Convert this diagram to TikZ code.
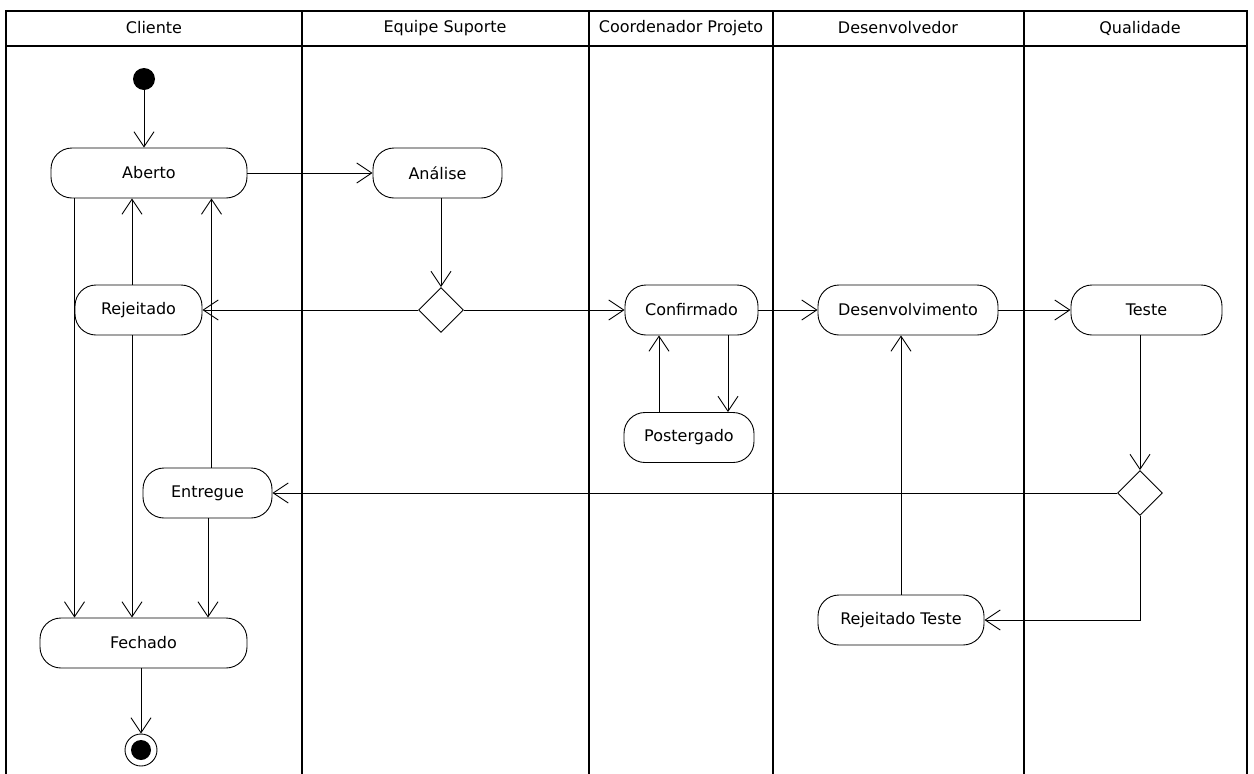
\documentclass[tikz,border=0pt]{standalone}
\usepackage{fontspec}
\setmainfont{DejaVu Sans}
\usepackage{tikz}
\usetikzlibrary{
  positioning,
  calc,
  arrows.meta,
  shapes.geometric
}
\tikzstyle{lane}=[line width=1.1pt]
\tikzstyle{flow}=[-{Straight Barb[length=15pt,width=20pt]}, line width=0.9pt]
\tikzstyle{acao}=[draw, line width=0.9pt, rounded corners=21pt, minimum height=50pt, inner sep=0pt, font=\fontsize{16}{19}\selectfont]
\tikzstyle{decisao}=[draw, diamond, line width=0.9pt, minimum width=45pt, minimum height=45pt, inner sep=0pt]
\tikzstyle{titulo}=[font=\fontsize{16}{19}\selectfont]

\begin{document}
\begin{tikzpicture}[x=1pt, y=-1pt]
      \useasboundingbox (0,0) rectangle (1254,774);

      % raias
      \draw[lane] (6,774) -- (6,11) -- (1247,11) -- (1247,774);
      \draw[lane] (6,46) -- (1247,46);
      \foreach \x in {302,589,773,1024}
        \draw[lane] (\x,11) -- (\x,774);

      % titulos das raias
      \node[titulo] (tCliente) at (154,28) {Cliente};
      \node[titulo] (tSuporte) at (445,28) {Equipe Suporte};
      \node[titulo] (tCoord) at (681,28) {Coordenador Projeto};
      \node[titulo] (tDesenv) at (898,28) {Desenvolvedor};
      \node[titulo] (tQualidade) at (1140,28) {Qualidade};

      % inicio e fim
      \node[circle, fill, minimum size=22pt, inner sep=0pt] (inicio) at (144,79) {};
      \node[circle, draw, line width=0.9pt, minimum size=32pt, inner sep=0pt,
        path picture={\fill (path picture bounding box.center) circle (10pt);}] (fim) at (141,750) {};

      % estados
      \node[acao, minimum width=196pt] (Aberto) at (149,173) {Aberto};
      \node[acao, minimum width=129pt] (Analise) at (437.5,173) {Análise};
      \node[acao, minimum width=127pt] (Rejeitado) at (138.5,310) {Rejeitado};
      \node[acao, minimum width=133pt] (Confirmado) at (691.5,310) {Confirmado};
      \node[acao, minimum width=130pt] (Postergado) at (689,437.5) {Postergado};
      \node[acao, minimum width=180pt] (Desenvolvimento) at (908,310) {Desenvolvimento};
      \node[acao, minimum width=151pt] (Teste) at (1146.5,310) {Teste};
      \node[acao, minimum width=129pt] (Entregue) at (207.5,493) {Entregue};
      \node[acao, minimum width=166pt] (RejTeste) at (901,620) {Rejeitado Teste};
      \node[acao, minimum width=207pt] (Fechado) at (143.5,643) {Fechado};

      % decisoes
      \node[decisao] (D1) at (441,310) {};
      \node[decisao] (D2) at (1140,493) {};

      % colunas das setas verticais
      \coordinate (xa) at (74.5,0);
      \coordinate (xr) at (132,0);
      \coordinate (xe) at (211.5,0);
      \coordinate (xf) at (208,0);
      \coordinate (xp) at (659,0);
      \coordinate (xc) at (728,0);

      % cliente
      \draw[flow] (inicio) -- (inicio |- Aberto.north);
      \draw[flow] (Aberto.south -| xa) -- (Fechado.north -| xa);
      \draw[flow] (Rejeitado.north -| xr) -- (Aberto.south -| xr);
      \draw[flow] (Rejeitado.south -| xr) -- (Fechado.north -| xr);
      \draw[flow] (Entregue.north -| xe) -- (Aberto.south -| xe);
      \draw[flow] (Entregue.south -| xf) -- (Fechado.north -| xf);
      \draw[flow] (Fechado.south -| fim) -- (fim.north);

      % suporte e coordenador
      \draw[flow] (Aberto.east) -- (Analise.west);
      \draw[flow] (Analise.south -| D1) -- (D1.north);
      \draw[flow] (D1.west) -- (Rejeitado.east);
      \draw[flow] (D1.east) -- (Confirmado.west);
      \draw[flow] (Confirmado.south -| xc) -- (Postergado.north -| xc);
      \draw[flow] (Postergado.north -| xp) -- (Confirmado.south -| xp);

      % desenvolvedor e qualidade
      \draw[flow] (Confirmado.east) -- (Desenvolvimento.west);
      \draw[flow] (Desenvolvimento.east) -- (Teste.west);
      \draw[flow] (Teste.south -| D2) -- (D2.north);
      \draw[flow] (D2.west) -- (Entregue.east);
      \draw[flow] (D2.south) |- (RejTeste.east);
      \draw[flow] (RejTeste.north) -- (Desenvolvimento.south -| RejTeste);
\end{tikzpicture}
\end{document}
